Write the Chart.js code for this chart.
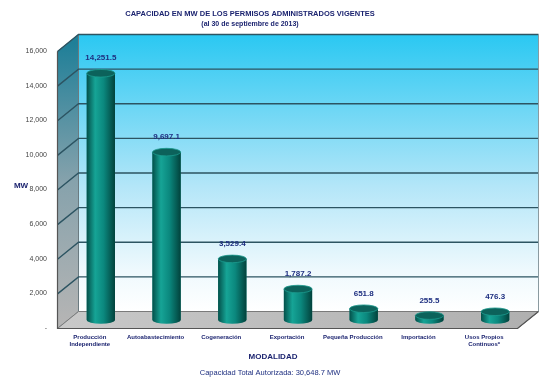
<!DOCTYPE html>
<html lang="es">
<head>
    <meta charset="UTF-8">
    <title>Capacidad en MW de los permisos administrados vigentes</title>
    <script src="https://cdn.jsdelivr.net/npm/chart.js"></script>
    <style>
        body {
            margin: 0;
            padding: 0;
            background-color: #ffffff;
        }
        canvas {
            display: block;
        }
    </style>
</head>
<body>

    <canvas id="capacidadChart" width="550" height="386"></canvas>

    <script>
        // Datos
        const modalidades = [
            ['Producción', 'Independiente'],
            'Autoabastecimiento',
            'Cogeneración',
            'Exportación',
            'Pequeña Producción',
            'Importación',
            ['Usos Propios', 'Continuos*']
        ];
        const capacidadMW = [14251.5, 9697.1, 3529.4, 1787.2, 651.8, 255.5, 476.3];
        const ejeMin = 0;
        const ejeMax = 16000;
        const ejePaso = 2000;

        const titulo = 'CAPACIDAD EN MW DE LOS PERMISOS ADMINISTRADOS VIGENTES';
        const subtitulo = '(al 30 de septiembre de 2013)';
        const tituloEjeY = 'MW';
        const tituloEjeX = 'MODALIDAD';
        const totalTexto = 'Capacidad Total Autorizada: 30,648.7 MW';

        const fuente = 'Arial, "Liberation Sans", sans-serif';
        const azul = '#1c2470';

        // profundidad del efecto 3D (mitad)
        const hx = 10.5;
        const hy = 8.5;

        // Paredes y piso en 3D
        const fondo3D = {
            id: 'fondo3D',
            beforeDatasetsDraw(chart) {
                const { ctx, chartArea: a, scales: { y } } = chart;
                ctx.save();

                // pared del fondo
                let g = ctx.createLinearGradient(0, a.top - hy, 0, a.bottom - hy);
                g.addColorStop(0, '#2ac8f2');
                g.addColorStop(0.55, '#b4e6f8');
                g.addColorStop(0.85, '#eef9fd');
                g.addColorStop(1, '#ffffff');
                ctx.fillStyle = g;
                ctx.fillRect(a.left + hx, a.top - hy, a.right - a.left, a.bottom - a.top);

                // pared lateral
                g = ctx.createLinearGradient(0, a.top, 0, a.bottom);
                g.addColorStop(0, '#1f7f98');
                g.addColorStop(0.5, '#86a2ac');
                g.addColorStop(1, '#b4b4b4');
                ctx.fillStyle = g;
                ctx.beginPath();
                ctx.moveTo(a.left - hx, a.top + hy);
                ctx.lineTo(a.left + hx, a.top - hy);
                ctx.lineTo(a.left + hx, a.bottom - hy);
                ctx.lineTo(a.left - hx, a.bottom + hy);
                ctx.closePath();
                ctx.fill();
                ctx.strokeStyle = '#6a7a80';
                ctx.lineWidth = 1;
                ctx.stroke();

                // piso
                g = ctx.createLinearGradient(a.left, 0, a.right, 0);
                g.addColorStop(0, '#c8c8c8');
                g.addColorStop(1, '#b0b0b0');
                ctx.fillStyle = g;
                ctx.beginPath();
                ctx.moveTo(a.left - hx, a.bottom + hy);
                ctx.lineTo(a.right - hx, a.bottom + hy);
                ctx.lineTo(a.right + hx, a.bottom - hy);
                ctx.lineTo(a.left + hx, a.bottom - hy);
                ctx.closePath();
                ctx.fill();
                ctx.strokeStyle = '#7a7a7a';
                ctx.stroke();

                // líneas de la cuadrícula
                ctx.strokeStyle = '#2c5462';
                ctx.lineWidth = 1.4;
                y.ticks.forEach(t => {
                    if (t.value === ejeMin) return;
                    const py = y.getPixelForValue(t.value);
                    ctx.beginPath();
                    ctx.moveTo(a.left - hx, py + hy);
                    ctx.lineTo(a.left + hx, py - hy);
                    ctx.lineTo(a.right + hx, py - hy);
                    ctx.stroke();
                });

                // borde derecho del fondo y eje frontal
                ctx.strokeStyle = '#8a9aa0';
                ctx.lineWidth = 1;
                ctx.beginPath();
                ctx.moveTo(a.right + hx, a.top - hy);
                ctx.lineTo(a.right + hx, a.bottom - hy);
                ctx.stroke();

                ctx.strokeStyle = '#555555';
                ctx.lineWidth = 1.2;
                ctx.beginPath();
                ctx.moveTo(a.left - hx, a.top + hy);
                ctx.lineTo(a.left - hx, a.bottom + hy);
                ctx.lineTo(a.right - hx, a.bottom + hy);
                ctx.lineTo(a.right + hx, a.bottom - hy);
                ctx.stroke();

                ctx.restore();
            }
        };

        // Cilindros y etiquetas de valores
        const cilindros = {
            id: 'cilindros',
            afterDatasetsDraw(chart) {
                const { ctx } = chart;
                const meta = chart.getDatasetMeta(0);
                ctx.save();
                meta.data.forEach((bar, i) => {
                    const { x, y, width, base } = bar.getProps(['x', 'y', 'width', 'base'], true);
                    const r = width / 2;
                    const ry = 3.8;

                    const g = ctx.createLinearGradient(x - r, 0, x + r, 0);
                    g.addColorStop(0, '#03504a');
                    g.addColorStop(0.3, '#16a496');
                    g.addColorStop(0.6, '#0b887e');
                    g.addColorStop(1, '#02423c');
                    ctx.fillStyle = g;
                    ctx.fillRect(x - r, y, width, base - y);
                    ctx.beginPath();
                    ctx.ellipse(x, base, r, ry, 0, 0, Math.PI);
                    ctx.fill();

                    // tapa
                    ctx.beginPath();
                    ctx.ellipse(x, y, r, ry, 0, 0, Math.PI * 2);
                    ctx.fillStyle = '#0c625b';
                    ctx.fill();
                    ctx.strokeStyle = '#1c9a8e';
                    ctx.lineWidth = 0.8;
                    ctx.stroke();

                    // valor
                    ctx.fillStyle = '#1e2f80';
                    ctx.font = 'bold 8px ' + fuente;
                    ctx.textAlign = 'center';
                    ctx.textBaseline = 'middle';
                    const texto = capacidadMW[i].toLocaleString('en-US', { minimumFractionDigits: 1, maximumFractionDigits: 1 });
                    ctx.fillText(texto, x, y - 15);
                });
                ctx.restore();
            }
        };

        // Textos de título y ejes
        const textos = {
            id: 'textos',
            afterDraw(chart) {
                const { ctx } = chart;
                ctx.save();
                ctx.fillStyle = azul;
                ctx.textAlign = 'center';
                ctx.textBaseline = 'middle';
                ctx.font = 'bold 7.5px ' + fuente;
                ctx.fillText(titulo, 250, 14);
                ctx.font = 'bold 7px ' + fuente;
                ctx.fillText(subtitulo, 250, 24);
                ctx.font = 'bold 8px ' + fuente;
                ctx.fillText(tituloEjeY, 21, 186);
                ctx.fillText(tituloEjeX, 273, 357);
                ctx.font = '7.5px ' + fuente;
                ctx.fillStyle = '#1e2f80';
                ctx.fillText(totalTexto, 270, 373);
                ctx.restore();
            }
        };

        const ctx = document.getElementById('capacidadChart').getContext('2d');
        const capacidadChart = new Chart(ctx, {
            type: 'bar',
            data: {
                labels: modalidades,
                datasets: [{
                    label: 'Capacidad (MW)',
                    data: capacidadMW,
                    backgroundColor: '#0b877d',
                    categoryPercentage: 1,
                    barPercentage: 0.43
                }]
            },
            options: {
                responsive: false,
                animation: false,
                devicePixelRatio: 1,
                layout: {
                    padding: { top: 43, right: 22, bottom: 0, left: 0 }
                },
                plugins: {
                    legend: { display: false },
                    tooltip: { enabled: false }
                },
                scales: {
                    x: {
                        grid: { display: false, drawTicks: false },
                        border: { display: false },
                        ticks: {
                            autoSkip: false,
                            maxRotation: 0,
                            padding: 13,
                            labelOffset: -11,
                            color: azul,
                            font: { family: fuente, size: 6, weight: 'bold', lineHeight: 1.3 }
                        },
                        afterFit(scale) { scale.height = 66; }
                    },
                    y: {
                        min: ejeMin,
                        max: ejeMax,
                        grid: { display: false, drawTicks: false },
                        border: { display: false },
                        ticks: {
                            stepSize: ejePaso,
                            padding: 21,
                            labelOffset: 8,
                            color: '#444444',
                            font: { family: fuente, size: 7 },
                            callback: function (value) {
                                return value === 0 ? '-' : value.toLocaleString('en-US');
                            }
                        },
                        afterFit(scale) { scale.width = 68; }
                    }
                }
            },
            plugins: [fondo3D, cilindros, textos]
        });
    </script>

</body>
</html>
